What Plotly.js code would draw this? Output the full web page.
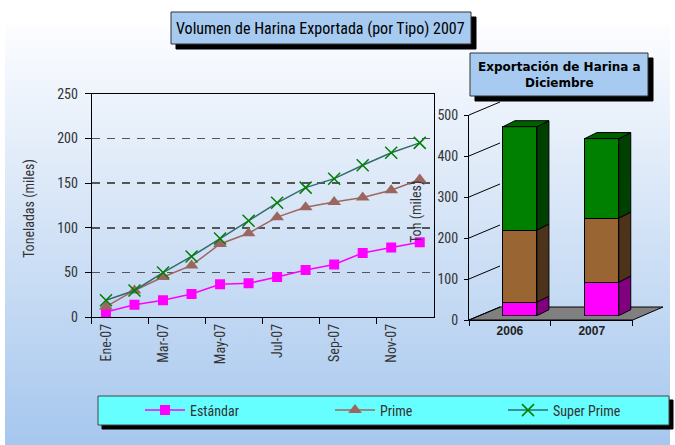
<!DOCTYPE html>
<html><head><meta charset="utf-8">
<script src="https://cdn.plot.ly/plotly-3.0.1.min.js"></script>
<style>
html,body{margin:0;padding:0;background:#fff;}
#wrap{position:relative;width:675px;height:445px;overflow:hidden;background:#fff;}
#grad{position:absolute;left:5px;top:25px;width:665px;height:420px;background:linear-gradient(to bottom,#fcfdff 0%,#d2e2f6 50%,#a6c7ee 100%);}
#chart{position:absolute;left:0;top:0;width:675px;height:445px;}
</style></head>
<body><div id="wrap"><div id="grad"></div><div id="chart"></div></div>
<script>
// ---- data ----
const months = ['Ene-07','Feb-07','Mar-07','Abr-07','May-07','Jun-07','Jul-07','Ago-07','Sep-07','Oct-07','Nov-07','Dic-07'];
const estandar   = [6, 14, 19, 26, 37, 38, 45, 53, 59, 72, 78, 84];
const prime      = [12, 30, 45, 58, 82, 94, 112, 123, 129, 134, 142, 154];
const superPrime = [19, 30, 50, 68, 88, 108, 128, 145, 155, 170, 184, 195];
const years = ['2006', '2007'];
const barEstandar   = [33, 82];
const barPrime      = [176, 156];
const barSuperPrime = [252, 194];
const seriesNames = ['Estándar', 'Prime', 'Super Prime'];

// ---- helpers (pixel -> paper) ----
const W = 675, H = 445;
const px = x => x / W, py = y => 1 - y / H;
const FONT = '"Roboto Condensed","DejaVu Sans Condensed",sans-serif';
const BFONT = '"DejaVu Sans","Liberation Sans",sans-serif';
const YFONT = '"Liberation Sans","DejaVu Sans",sans-serif';

const traces = [];
traces.push({x: months, y: estandar, name: seriesNames[0], type: 'scatter', mode: 'lines+markers',
  line: {color: '#ff00ff', width: 1.5}, marker: {symbol: 'square', size: 10, color: '#ff00ff'},
  xaxis: 'x', yaxis: 'y', legend: 'legend'});
traces.push({x: months, y: prime, name: seriesNames[1], type: 'scatter', mode: 'lines+markers',
  line: {color: '#a0665f', width: 1.5}, marker: {symbol: 'triangle-up', size: 12, color: '#9c6660'},
  xaxis: 'x', yaxis: 'y', legend: 'legend2'});
traces.push({x: months, y: superPrime, name: seriesNames[2], type: 'scatter', mode: 'lines+markers',
  line: {color: '#336c6c', width: 1.5}, marker: {symbol: 'x-thin', size: 12, color: '#008000', line: {color: '#008000', width: 1.5}},
  xaxis: 'x', yaxis: 'y', legend: 'legend3'});

// invisible trace to give the category axis of the bar chart its ticks
traces.push({x: years, y: [0, 0], type: 'scatter', mode: 'markers', marker: {opacity: 0}, showlegend: false,
  xaxis: 'x2', yaxis: 'y2', hoverinfo: 'skip'});

// stacked bars (front faces)
const barIdx = [0, 1];
const barSeries = [barEstandar, barPrime, barSuperPrime];
const frontCol = ['#ff00ff', '#996633', '#008000'];
const sideCol = ['#800080', '#4d3319', '#004000'];
const topCol = '#006000';
const BW = 0.415, DX = 0.1466, DY = 14.6;
barSeries.forEach((vals, s) => {
  traces.push({x: barIdx, y: vals, type: 'bar', width: BW, name: seriesNames[s], showlegend: false,
    marker: {color: frontCol[s], line: {color: '#000', width: 1}}, xaxis: 'x3', yaxis: 'y3', hoverinfo: 'skip'});
});
// 3D side faces and top face, derived from the data
barIdx.forEach(i => {
  let base = 0;
  const xr = i + BW / 2, xl = i - BW / 2;
  barSeries.forEach((vals, s) => {
    const b = base, t = base + vals[i];
    traces.push({x: [xr, xr + DX, xr + DX, xr, xr], y: [b, b + DY, t + DY, t, b], type: 'scatter', mode: 'lines',
      fill: 'toself', fillcolor: sideCol[s], line: {color: '#000', width: 1}, showlegend: false,
      xaxis: 'x3', yaxis: 'y3', hoverinfo: 'skip'});
    base = t;
  });
  traces.push({x: [xl, xr, xr + DX, xl + DX, xl], y: [base, base, base + DY, base + DY, base], type: 'scatter', mode: 'lines',
    fill: 'toself', fillcolor: topCol, line: {color: '#000', width: 1}, showlegend: false,
    xaxis: 'x3', yaxis: 'y3', hoverinfo: 'skip'});
});

// ---- decorative shapes ----
const rect = (x0, y0, x1, y1, fill, lineCol) => ({type: 'rect', xref: 'paper', yref: 'paper',
  x0: px(x0), x1: px(x1), y0: py(y1), y1: py(y0), fillcolor: fill, line: {color: lineCol || fill, width: 1}, layer: 'below'});
const shapes = [];
// title boxes with shadows
shapes.push(rect(176, 17, 476, 49, '#000'));
shapes.push(rect(171, 12, 471, 44, '#a6caf0', '#333'));
shapes.push(rect(475, 58, 653, 101, '#000'));
shapes.push(rect(470, 53, 648, 96, '#a6caf0', '#333'));
// legend box
shapes.push(rect(102, 400, 673, 429, '#000'));
shapes.push(rect(98, 396, 669, 425, '#66ffff', '#444'));
// floor of 3D bar chart
shapes.push({type: 'path', xref: 'paper', yref: 'paper', layer: 'below',
  path: `M ${px(469)},${py(320)} L ${px(632.7)},${py(320)} L ${px(663)},${py(307)} L ${px(500)},${py(307)} Z`,
  fillcolor: '#808080', line: {color: '#000', width: 1}});
// left wall diagonals at tick values
[0, 100, 200, 300, 400, 500].forEach(v => {
  const yf = 320 - v * 0.41, yb = 307 - v * 0.41;
  shapes.push({type: 'line', xref: 'paper', yref: 'paper', x0: px(469), y0: py(yf), x1: px(500), y1: py(yb),
    line: {color: '#000', width: 1}});
});

const tickFont = {family: FONT, size: 14, color: '#333'};
const ann = (text, x, y, font, angle) => ({text: text, x: px(x), y: py(y), xref: 'paper', yref: 'paper',
  xanchor: 'center', yanchor: 'middle', showarrow: false, font: font, textangle: angle || 0});
const annotations = [
  ann('Volumen de Harina Exportada (por Tipo) 2007', 320, 28.5, {family: FONT, size: 16, color: '#000'}),
  ann('<b>Exportación de Harina a</b><br><b>Diciembre</b>', 559, 74.5, {family: BFONT, size: 12, color: '#000'}),
  ann('Toneladas (miles)', 29, 208, {family: FONT, size: 14, color: '#333'}, -90),
  ann('Ton (miles)', 416, 212, {family: FONT, size: 14, color: '#333'}, -90)
];

const legBase = {orientation: 'h', bgcolor: 'rgba(0,0,0,0)', borderwidth: 0, yanchor: 'middle', xanchor: 'left',
  y: py(410.5), itemwidth: 40, font: {family: FONT, size: 14, color: '#333'}};

const layout = {
  width: W, height: H, margin: {l: 0, r: 0, t: 0, b: 0},
  paper_bgcolor: 'rgba(0,0,0,0)', plot_bgcolor: 'rgba(0,0,0,0)',
  hovermode: false, barmode: 'stack', bargap: 0,
  showlegend: true,
  legend: Object.assign({}, legBase, {x: px(140)}),
  legend2: Object.assign({}, legBase, {x: px(330)}),
  legend3: Object.assign({}, legBase, {x: px(503)}),
  xaxis: {domain: [px(91.7), px(434)], type: 'category', categoryarray: months, range: [-0.5, 11.5],
    tickmode: 'linear', tick0: 0, dtick: 2, tickson: 'boundaries', ticks: 'outside', ticklen: 6, tickcolor: '#000',
    tickangle: -90, tickfont: tickFont, showline: true, mirror: true, linecolor: '#000', linewidth: 1,
    showgrid: false, zeroline: false, anchor: 'y'},
  yaxis: {domain: [py(317.3), py(93.7)], range: [0, 250], tickmode: 'linear', tick0: 0, dtick: 50,
    ticks: 'outside', ticklen: 6, tickcolor: '#000', tickfont: tickFont, ticklabelstandoff: 4,
    showline: true, mirror: true, linecolor: '#000', linewidth: 1,
    showgrid: true, gridcolor: '#555', gridwidth: 1.5, griddash: '8px,7px', zeroline: false, anchor: 'x'},
  xaxis2: {domain: [px(469), px(632.7)], type: 'category', categoryarray: years, range: [-0.5, 1.5],
    tickson: 'boundaries', ticks: 'outside', ticklen: 5, tickcolor: '#000',
    tickfont: {family: YFONT, size: 12, color: '#222', weight: 'bold'}, showline: true, linecolor: '#000',
    showgrid: false, zeroline: false, anchor: 'y2'},
  yaxis2: {domain: [py(320), py(115)], range: [0, 500], tickmode: 'linear', tick0: 0, dtick: 100,
    ticks: 'outside', ticklen: 4, tickcolor: '#000', tickfont: tickFont, ticklabelstandoff: 3,
    showline: true, linecolor: '#000', showgrid: false, zeroline: false, anchor: 'x2'},
  xaxis3: {domain: [px(479), px(642.7)], range: [-0.5, 1.5], visible: false, anchor: 'y3'},
  yaxis3: {domain: [py(315.7), py(110.7)], range: [0, 500], visible: false, anchor: 'x3'},
  xaxis4: {domain: [px(500), px(663)], range: [0, 1], side: 'top', showline: true, linecolor: '#000',
    showticklabels: false, ticks: '', showgrid: false, zeroline: false, anchor: 'y4'},
  yaxis4: {domain: [py(307), py(102)], range: [0, 500], tickmode: 'linear', tick0: 0, dtick: 100,
    showline: true, linecolor: '#000', showticklabels: false, ticks: '', showgrid: true, gridcolor: '#444',
    gridwidth: 1, zeroline: false, anchor: 'x4'},
  shapes: shapes,
  annotations: annotations
};

Plotly.newPlot('chart', traces, layout, {displayModeBar: false, staticPlot: true});
</script></body></html>
